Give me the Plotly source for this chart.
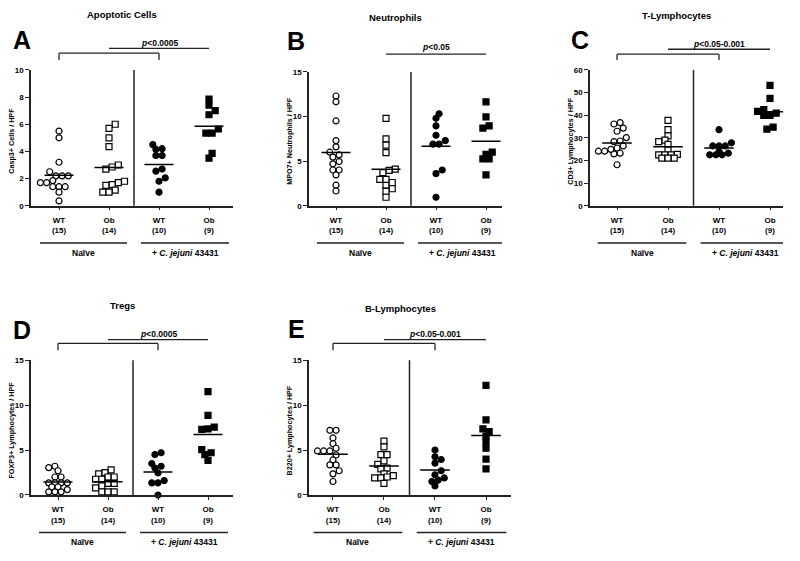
import plotly.graph_objects as go

W, H = 800, 561
FONT = "Arial, Liberation Sans, sans-serif"

group_labels = ["WT<br>(15)", "Ob<br>(14)", "WT<br>(10)", "Ob<br>(9)"]
symbols = ["circle", "square", "circle", "square"]
fills = ["white", "white", "black", "black"]

# A - apoptotic cells (Casp3+)
casp3_wt_naive = [5.5, 5.0, 3.2, 2.5, 2.2, 2.2, 2.2, 1.85, 1.7, 1.7, 1.4, 1.4, 1.4, 1.0, 0.35]
casp3_ob_naive = [6.0, 5.7, 5.0, 4.35, 3.0, 2.7, 2.85, 1.8, 1.7, 1.55, 1.5, 1.15, 1.0, 1.0]
casp3_wt_cj = [4.5, 4.15, 4.2, 3.7, 3.7, 2.55, 2.7, 2.05, 1.8, 1.0]
casp3_ob_cj = [7.85, 7.4, 7.0, 6.7, 5.35, 5.35, 5.65, 3.85, 3.5]

# B - neutrophils (MPO7+)
mpo_wt_naive = [12.3, 11.65, 9.5, 7.3, 6.6, 6.0, 5.7, 5.45, 4.95, 4.7, 4.0, 4.0, 3.45, 2.3, 1.65]
mpo_ob_naive = [9.8, 7.5, 6.8, 5.95, 3.95, 3.7, 4.1, 2.3, 2.95, 2.95, 2.6, 1.9, 1.6, 0.95]
mpo_wt_cj = [10.3, 9.8, 8.95, 7.9, 7.3, 6.9, 6.9, 4.0, 3.6, 0.95]
mpo_ob_cj = [11.65, 9.95, 8.7, 8.95, 6.0, 5.25, 5.25, 5.75, 3.45]

# C - T-lymphocytes (CD3+)
cd3_wt_naive = [36.7, 36.1, 34.3, 32.9, 30.1, 28.6, 28.3, 26.4, 25.5, 24.1, 23.2, 22.9, 24.1, 24.9, 18.1]
cd3_ob_naive = [37.7, 33.6, 30.9, 29.0, 28.3, 27.1, 24.6, 22.5, 22.5, 22.5, 22.7, 21.0, 21.0, 21.0]
cd3_wt_cj = [33.6, 27.8, 26.4, 26.4, 26.4, 23.9, 22.5, 22.5, 22.5, 23.2]
cd3_ob_cj = [53.2, 47.4, 41.7, 42.5, 39.9, 39.9, 40.9, 33.8, 34.7]

# D - Tregs (FOXP3+)
foxp3_wt_naive = [3.2, 3.05, 2.7, 2.0, 2.0, 1.35, 1.35, 1.35, 1.35, 0.9, 0.9, 0.6, 0.35, 0.35, 0.35]
foxp3_ob_naive = [2.8, 2.5, 2.35, 2.0, 2.0, 1.75, 1.75, 1.3, 1.3, 1.0, 0.8, 0.35, 0.35, 0.35]
foxp3_wt_cj = [4.5, 4.7, 3.5, 3.2, 3.0, 2.45, 1.35, 1.35, 1.6, 0.0]
foxp3_ob_cj = [11.5, 8.85, 7.55, 7.3, 7.35, 5.05, 4.7, 4.5, 3.85]

# E - B-lymphocytes (B220+)
b220_wt_naive = [7.2, 7.2, 6.35, 5.7, 5.2, 4.9, 4.9, 4.9, 4.45, 3.9, 3.35, 3.35, 2.7, 2.35, 1.5]
b220_ob_naive = [6.0, 5.35, 4.5, 4.5, 3.8, 3.4, 3.0, 2.9, 2.35, 2.15, 1.9, 1.9, 2.0, 1.3]
b220_wt_cj = [5.0, 4.25, 3.95, 3.55, 2.25, 2.7, 1.9, 1.65, 1.0, 1.5]
b220_ob_cj = [12.2, 8.35, 7.35, 7.05, 6.55, 5.9, 5.2, 4.0, 2.9]

panels = [
    dict(letter="A", title="Apoptotic Cells", ytitle="Casp3+ Cells / HPF",
         data=[casp3_wt_naive, casp3_ob_naive, casp3_wt_cj, casp3_ob_cj],
         ymax=10, dtick=2, box=(31, 233, 67, 205), xr=(0.44, 4.48),
         letter_pos=(22, 37), title_y=11, p="&lt;0.0005", bracket=True,
         br_y=(50, 57), line_y=45, p_y=40, grp_y=243),
    dict(letter="B", title="Neutrophils", ytitle="MPO7+ Neutrophils / HPF",
         data=[mpo_wt_naive, mpo_ob_naive, mpo_wt_cj, mpo_ob_cj],
         ymax=15, dtick=5, box=(309, 502, 69, 205), xr=(0.46, 4.32),
         letter_pos=(296, 38), title_y=14, p="&lt;0.05", bracket=False,
         br_y=None, line_y=51, p_y=44, grp_y=243),
    dict(letter="C", title="T-Lymphocytes", ytitle="CD3+ Lymphocytes / HPF",
         data=[cd3_wt_naive, cd3_ob_naive, cd3_wt_cj, cd3_ob_cj],
         ymax=60, dtick=10, box=(590, 783, 67, 205), xr=(0.47, 4.255),
         letter_pos=(580, 37), title_y=12, p="&lt;0.05-0.001", bracket=True,
         br_y=(51, 57), line_y=46, p_y=41, grp_y=243),
    dict(letter="D", title="Tregs", ytitle="FOXP3+ Lymphocytes / HPF",
         data=[foxp3_wt_naive, foxp3_ob_naive, foxp3_wt_cj, foxp3_ob_cj],
         ymax=15, dtick=5, box=(31, 233, 362, 499), xr=(0.46, 4.5),
         letter_pos=(22, 331), title_y=306, p="&lt;0.0005", bracket=True,
         br_y=(345, 352), line_y=341, p_y=335, grp_y=537),
    dict(letter="E", title="B-Lymphocytes", ytitle="B220+ Lymphocytes / HPF",
         data=[b220_wt_naive, b220_ob_naive, b220_wt_cj, b220_ob_cj],
         ymax=15, dtick=5, box=(309, 511, 362, 499), xr=(0.53, 4.49),
         letter_pos=(296, 330), title_y=309, p="&lt;0.05-0.001", bracket=True,
         br_y=(345, 352), line_y=341, p_y=335, grp_y=537),
]


def fx(px):
    return px / W


def fy(py):
    return 1 - py / H


def swarm(vals, upp, step=6.2, tol=2.5, mind=5.2):
    """GraphPad-like scatter: equal values share a centred row, rows shift sideways to avoid overlap."""
    order = sorted(range(len(vals)), key=lambda i: vals[i])
    rows, cur = [], []
    for i in order:
        if cur and (vals[i] - vals[cur[0]]) * upp > tol:
            rows.append(cur)
            cur = []
        cur.append(i)
    if cur:
        rows.append(cur)
    offs = [0.0] * len(vals)
    placed = []
    h = step / 2
    shifts = [0, h, -h, 2 * h, -2 * h, 3 * h, -3 * h, 4 * h, -4 * h]
    for row in rows:
        n = len(row)
        base = [(k - (n - 1) / 2) * step for k in range(n)]
        best = base
        for shift in shifts:
            cand = [b + shift for b in base]
            ok = all(((c - px) ** 2 + (vals[i] * upp - py) ** 2) >= mind ** 2
                     for c, i in zip(cand, row) for px, py in placed)
            if ok:
                best = cand
                break
        for c, i in zip(best, row):
            offs[i] = c
            placed.append((c, vals[i] * upp))
    return offs


def note(text, x, y, size, xref="paper", angle=0):
    return dict(xref=xref, yref="paper", x=x, y=y, text=text, showarrow=False,
                xanchor="center", yanchor="middle", textangle=angle,
                font=dict(family=FONT, size=size, color="black"))


fig = go.Figure()
shapes, annotations = [], []
line_col = "#222222"

for n, p in enumerate(panels, start=1):
    xa = "x" if n == 1 else f"x{n}"
    ya = "y" if n == 1 else f"y{n}"
    x0, x1, ytop, ybot = p["box"]
    xr = p["xr"]
    ppu_x = (x1 - x0) / (xr[1] - xr[0])
    ppu_y = (ybot - ytop) / p["ymax"]

    for g, vals in enumerate(p["data"]):
        offs = swarm(vals, ppu_y)
        xs = [g + 1 + o / ppu_x for o in offs]
        fig.add_trace(go.Scatter(
            x=xs, y=vals, mode="markers", xaxis=xa, yaxis=ya, showlegend=False,
            marker=dict(symbol=symbols[g], size=6, color=fills[g],
                        line=dict(color="black", width=1.2)),
            cliponaxis=False, hoverinfo="y"))
        m = sum(vals) / len(vals)
        fig.add_trace(go.Scatter(
            x=[g + 1 - 0.29, g + 1 + 0.29], y=[m, m], mode="lines",
            xaxis=xa, yaxis=ya, showlegend=False,
            line=dict(color="black", width=1.5), hoverinfo="skip"))

    ax_common = dict(showgrid=False, zeroline=False, showline=True,
                     linecolor=line_col, linewidth=1.5, ticks="outside",
                     tickcolor=line_col, tickwidth=1.3,
                     tickfont=dict(family=FONT, size=8, color="black"))
    fig.layout[xa.replace("x", "xaxis")] = dict(
        ax_common, domain=[fx(x0), fx(x1)], anchor=ya, range=list(xr),
        tickvals=[1, 2, 3, 4], ticktext=[f"<b>{t}</b>" for t in group_labels],
        ticklen=3, ticklabelstandoff=3, fixedrange=True)
    fig.layout[ya.replace("y", "yaxis")] = dict(
        ax_common, domain=[fy(ybot), fy(ytop)], anchor=xa,
        range=[0, p["ymax"]], tickvals=list(range(0, p["ymax"] + 1, p["dtick"])),
        ticktext=[f"<b>{v}</b>" for v in range(0, p["ymax"] + 1, p["dtick"])],
        ticklen=4, fixedrange=True)

    # divider between naive and infected groups
    shapes.append(dict(type="line", xref=xa, yref=f"{ya} domain", x0=2.5, x1=2.5,
                       y0=0, y1=1, line=dict(color=line_col, width=1.5)))

    # significance bracket and line
    if p["bracket"]:
        b_top, b_bot = p["br_y"]
        for xa0, ya0, xa1, ya1 in [(1, b_bot, 1, b_top), (1, b_top, 3, b_top), (3, b_top, 3, b_bot)]:
            shapes.append(dict(type="line", xref=xa, yref="paper", x0=xa0, x1=xa1,
                               y0=fy(ya0), y1=fy(ya1), line=dict(color=line_col, width=1.3)))
    shapes.append(dict(type="line", xref=xa, yref="paper", x0=2, x1=4,
                       y0=fy(p["line_y"]), y1=fy(p["line_y"]),
                       line=dict(color=line_col, width=1.3)))
    annotations.append(note(f"<b><i>p</i>{p['p']}</b>", 3, fy(p["p_y"]), 8.5, xref=xa))

    # group lines below axis
    for gx0, gx1, label in [(0.62, 2.36, "<b>Naïve</b>"),
                            (2.64, 4.4, "<b>+ <i>C. jejuni</i> 43431</b>")]:
        shapes.append(dict(type="line", xref=xa, yref="paper", x0=gx0, x1=gx1,
                           y0=fy(p["grp_y"]), y1=fy(p["grp_y"]),
                           line=dict(color=line_col, width=1.5)))
        annotations.append(note(label, (gx0 + gx1) / 2, fy(p["grp_y"] + 10), 8.5, xref=xa))

    # titles, panel letter, y-axis title
    annotations.append(note(f"<b>{p['title']}</b>", fx((x0 + x1) / 2 - 10), fy(p["title_y"]), 9.5))
    annotations.append(note(f"<b>{p['letter']}</b>", fx(p["letter_pos"][0]),
                            fy(p["letter_pos"][1]), 25))
    annotations.append(note(f"<b>{p['ytitle']}</b>", fx(x0 - 19),
                            fy((ytop + ybot) / 2 + 3), 7.2, angle=-90))

fig.update_layout(
    width=W, height=H, margin=dict(l=0, r=0, t=0, b=0),
    paper_bgcolor="white", plot_bgcolor="white",
    shapes=shapes, annotations=annotations, showlegend=False,
)

fig.write_html("out.html", config={"displayModeBar": False},
               post_script="document.body.style.margin='0';")
